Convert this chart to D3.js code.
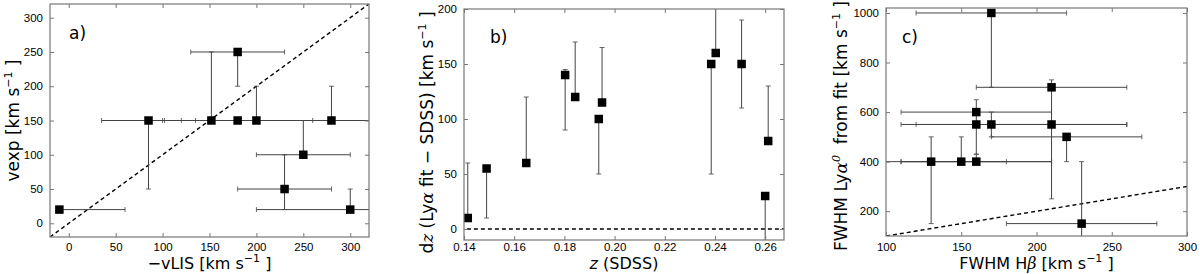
<!DOCTYPE html>
<html>
<head>
<meta charset="utf-8">
<script src="https://cdn.jsdelivr.net/npm/d3@7"></script>
<style>
  body { margin: 0; background: #fff; }
  svg { display: block; font-family: "DejaVu Sans", sans-serif; }
  .tick text { font-size: 11.5px; fill: #000; }
</style>
</head>
<body>
<div id="chart"></div>
<script>
// ---- data ----
// panel a: -vLIS vs vexp
const aX = [-10, 85, 152, 180, 180, 200, 280, 250, 230, 300]
const aY = [20, 150, 150, 250, 150, 150, 150, 100, 50, 20]
const aXErr = [[-10, 60], [35, 135], [102, 200], [130, 230], [100, 260], [120, 340], [280, 340], [200, 300], [180, 280], [200, 340]]
const aYErr = [null, [50, 150], [150, 250], [200, 250], null, [150, 200], [150, 200], [100, 150], [20, 100], [20, 50]]
const aXTicks = [0, 50, 100, 150, 200, 250, 300]
const aYTicks = [0, 50, 100, 150, 200, 250, 300]

// panel b: z (SDSS) vs dz
const bX = [0.1415, 0.149, 0.1648, 0.1803, 0.1843, 0.1937, 0.1950, 0.2385, 0.2403, 0.2506, 0.2600, 0.2612]
const bY = [10, 55, 60, 140, 120, 100, 115, 150, 160, 150, 30, 80]
const bYErr = [[10, 60], [10, 55], [60, 120], [90, 145], [120, 170], [50, 100], [115, 165], [50, 150], [160, 220], [110, 190], [-20, 30], [80, 130]]
const bXTicks = [0.14, 0.16, 0.18, 0.20, 0.22, 0.24, 0.26]
const bYTicks = [0, 50, 100, 150, 200]

// panel c: FWHM Hbeta vs FWHM Lya
const cX = [170, 210, 160, 160, 170, 210, 220, 130, 150, 160, 230]
const cY = [1000, 700, 600, 550, 550, 550, 500, 400, 400, 400, 150]
const cXErr = [[120, 220], [160, 260], [110, 210], [110, 210], [120, 260], [170, 260], [170, 270], [90, 180], [110, 210], [110, 210], [180, 280]]
const cYErr = [[700, 1000], [550, 730], [550, 650], [430, 550], [500, 600], [250, 550], [400, 500], [150, 500], [400, 500], [400, 430], [80, 400]]
const cXTicks = [100, 150, 200, 250, 300]
const cYTicks = [200, 400, 600, 800, 1000]

const width = 1200
const height = 274

const wrapper = d3.select("#chart")
  .append("svg")
    .attr("width", width)
    .attr("height", height)

function drawPanel(cfg) {
  const m = cfg.frame
  const w = m.right - m.left
  const h = m.bottom - m.top

  const xScale = d3.scaleLinear().domain(cfg.xDomain).range([0, w])
  const yScale = d3.scaleLinear().domain(cfg.yDomain).range([h, 0])

  const bounds = wrapper.append("g")
    .attr("transform", `translate(${m.left},${m.top})`)

  bounds.append("clipPath").attr("id", "clip-" + cfg.id)
    .append("rect").attr("width", w).attr("height", h)

  const plot = bounds.append("g").attr("clip-path", `url(#clip-${cfg.id})`)

  // reference line
  plot.append("line")
    .attr("x1", xScale(cfg.ref[0][0])).attr("y1", yScale(cfg.ref[0][1]))
    .attr("x2", xScale(cfg.ref[1][0])).attr("y2", yScale(cfg.ref[1][1]))
    .attr("stroke", "#000").attr("stroke-width", 1.4)
    .attr("stroke-dasharray", "4,3")

  const cap = 2.5
  const errColor = "#444"
  cfg.xs.forEach((xv, i) => {
    const yv = cfg.ys[i]
    const xe = cfg.xErr ? cfg.xErr[i] : null
    const ye = cfg.yErr ? cfg.yErr[i] : null
    if (xe) {
      const y0 = yScale(yv)
      plot.append("line")
        .attr("x1", xScale(xe[0])).attr("x2", xScale(xe[1]))
        .attr("y1", y0).attr("y2", y0)
        .attr("stroke", errColor).attr("stroke-width", 1)
      xe.forEach(v => {
        if (v === xv) return
        plot.append("line")
          .attr("x1", xScale(v)).attr("x2", xScale(v))
          .attr("y1", y0 - cap).attr("y2", y0 + cap)
          .attr("stroke", errColor).attr("stroke-width", 0.8)
      })
    }
    if (ye) {
      const x0 = xScale(xv)
      plot.append("line")
        .attr("x1", x0).attr("x2", x0)
        .attr("y1", yScale(ye[0])).attr("y2", yScale(ye[1]))
        .attr("stroke", errColor).attr("stroke-width", 1)
      ye.forEach(v => {
        if (v === yv) return
        plot.append("line")
          .attr("x1", x0 - cap).attr("x2", x0 + cap)
          .attr("y1", yScale(v)).attr("y2", yScale(v))
          .attr("stroke", errColor).attr("stroke-width", 0.8)
      })
    }
  })

  // squares
  const s = 8.5
  plot.selectAll("rect.pt")
    .data(cfg.xs)
    .join("rect")
      .attr("class", "pt")
      .attr("x", d => xScale(d) - s / 2)
      .attr("y", (d, i) => yScale(cfg.ys[i]) - s / 2)
      .attr("width", s)
      .attr("height", s)
      .attr("fill", "#000")

  // axes (ticks inside, on all four sides)
  const tl = 4
  const xAxis = bounds.append("g")
    .attr("transform", `translate(0,${h})`)
    .call(d3.axisBottom(xScale).tickValues(cfg.xTicks).tickSize(-tl).tickFormat(cfg.xFormat))
  const yAxis = bounds.append("g")
    .call(d3.axisLeft(yScale).tickValues(cfg.yTicks).tickSize(-tl).tickPadding(3 + tl).tickFormat(cfg.yFormat))
  bounds.append("g")
    .call(d3.axisTop(xScale).tickValues(cfg.xTicks).tickSize(-tl).tickFormat(""))
  bounds.append("g")
    .attr("transform", `translate(${w},0)`)
    .call(d3.axisRight(yScale).tickValues(cfg.yTicks).tickSize(-tl).tickFormat(""))
  bounds.selectAll(".domain").remove()
  bounds.selectAll(".tick line").attr("stroke", "#777")
  xAxis.selectAll("text").attr("dy", "0.35em").attr("y", 247 - m.bottom)

  bounds.append("rect")
    .attr("width", w).attr("height", h)
    .attr("fill", "none").attr("stroke", "#777").attr("stroke-width", 1.2)

  // panel letter
  bounds.append("text")
    .attr("x", cfg.letterPos[0]).attr("y", cfg.letterPos[1])
    .attr("font-size", 17)
    .text(cfg.letter)

  // axis titles
  const xt = bounds.append("text")
    .attr("x", w / 2).attr("y", 269 - m.top)
    .attr("text-anchor", "middle").attr("font-size", 16)
  cfg.xTitle(xt)

  const yt = bounds.append("text")
    .attr("transform", `translate(${cfg.yTitleX},${h / 2 + (cfg.yTitleDy || 0)}) rotate(-90)`)
    .attr("text-anchor", "middle").attr("font-size", 17)
    .attr("dy", "0.35em")
  cfg.yTitle(yt)
}

function kmUnit(t) {
  t.append("tspan").text(" [km s")
  t.append("tspan").attr("font-size", 11).attr("dy", -7).text("−1")
  t.append("tspan").attr("dy", 7).text(" ]")
}

drawPanel({
  id: "a",
  frame: { left: 50, right: 369, top: 4, bottom: 237 },
  xDomain: [-20, 320], yDomain: [-20, 320],
  xs: aX, ys: aY, xErr: aXErr, yErr: aYErr,
  xTicks: aXTicks, yTicks: aYTicks,
  xFormat: d3.format("d"), yFormat: d3.format("d"),
  ref: [[-20, -20], [320, 320]],
  letter: "a)", letterPos: [19, 35],
  yTitleX: -37,
  xTitle: t => { t.append("tspan").text("−vLIS"); kmUnit(t) },
  yTitle: t => { t.append("tspan").text("vexp"); kmUnit(t) }
})

drawPanel({
  id: "b",
  frame: { left: 464, right: 784, top: 9, bottom: 240 },
  xDomain: [0.14, 0.2675], yDomain: [-10, 200],
  xs: bX, ys: bY, xErr: null, yErr: bYErr,
  xTicks: bXTicks, yTicks: bYTicks,
  xFormat: d3.format(".2f"), yFormat: d3.format("d"),
  ref: [[0.13, 0], [0.28, 0]],
  letter: "b)", letterPos: [26, 34],
  yTitleX: -37, yTitleDy: 8,
  xTitle: t => {
    t.append("tspan").attr("font-style", "italic").text("z")
    t.append("tspan").text(" (SDSS)")
  },
  yTitle: t => {
    t.append("tspan").text("d")
    t.append("tspan").attr("font-family", "DejaVu Serif").attr("font-style", "italic").text("z")
    t.append("tspan").text(" (Ly")
    t.append("tspan").attr("font-family", "DejaVu Serif").attr("font-style", "italic").text("α")
    t.append("tspan").text(" fit − SDSS)")
    kmUnit(t)
  }
})

drawPanel({
  id: "c",
  frame: { left: 886, right: 1187, top: 8, bottom: 236 },
  xDomain: [100, 300], yDomain: [100, 1020],
  xs: cX, ys: cY, xErr: cXErr, yErr: cYErr,
  xTicks: cXTicks, yTicks: cYTicks,
  xFormat: d3.format("d"), yFormat: d3.format("d"),
  ref: [[100, 100], [300, 300]],
  letter: "c)", letterPos: [16, 35],
  yTitleX: -45, yTitleDy: 4,
  xTitle: t => {
    t.append("tspan").text("FWHM H")
    t.append("tspan").attr("font-family", "DejaVu Serif").attr("font-style", "italic").text("β")
    kmUnit(t)
  },
  yTitle: t => {
    t.append("tspan").text("FWHM Ly")
    t.append("tspan").attr("font-family", "DejaVu Serif").attr("font-style", "italic").text("α")
    t.append("tspan").attr("font-family", "DejaVu Serif").attr("font-style", "italic")
      .attr("font-size", 11).attr("dy", -7).text("0")
    t.append("tspan").attr("dy", 7).text("\u00a0 from fit")
    kmUnit(t)
  }
})
</script>
</body>
</html>
